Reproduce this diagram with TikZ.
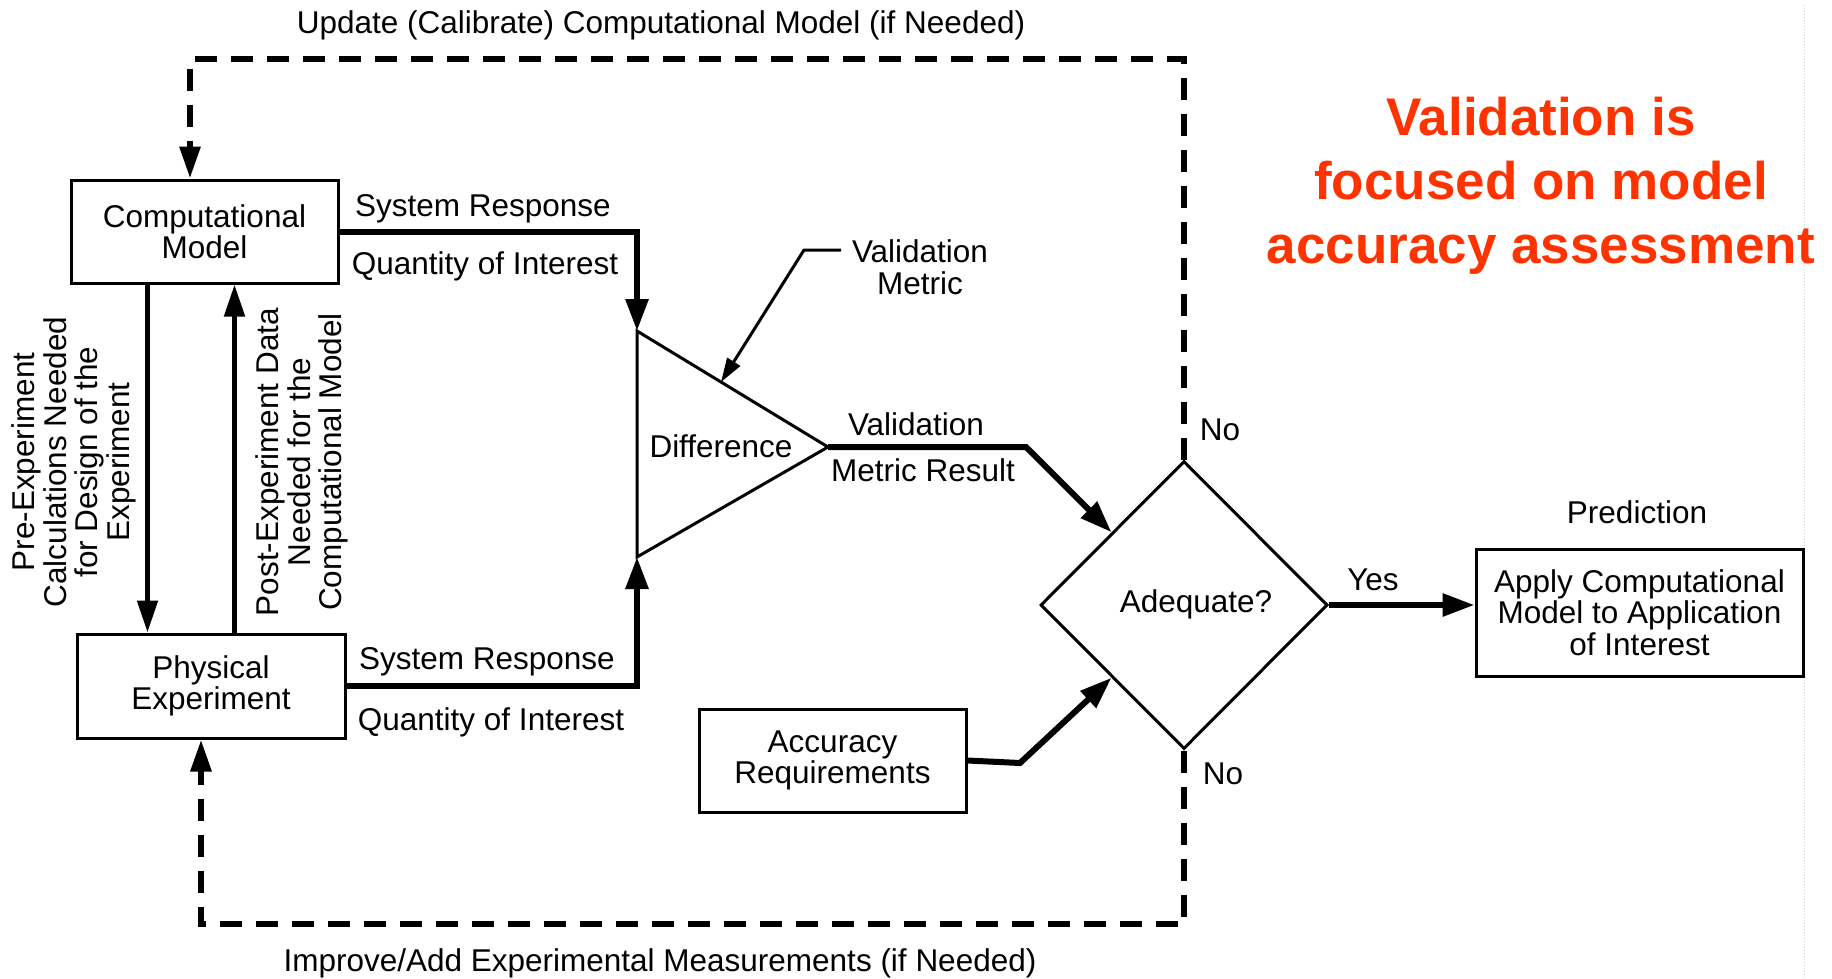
\documentclass[tikz,border=0pt]{standalone}
\usepackage{fontspec}
\setmainfont{Liberation Sans}
\usetikzlibrary{arrows.meta,shapes.geometric,calc}
\definecolor{alertred}{RGB}{255,51,0}
\begin{document}
\begin{tikzpicture}[x=1pt,y=-1pt,
font=\fontsize{31.5}{31.5}\selectfont,
every node/.style={inner sep=0pt,align=center},
box/.style={draw,line width=3pt,rectangle},
flow/.style={line width=6pt,line join=miter,-{Triangle[length=32pt,width=22pt]}},
link/.style={line width=5pt,-{Triangle[length=32pt,width=20pt]}},
loopback/.style={line width=6pt,dash pattern=on 22pt off 14pt,-{Triangle[length=32pt,width=20pt]}}]
\useasboundingbox(0,0)rectangle(1832,978);
\draw[gray!40,line width=1pt,dotted](1804,5)--(1804,978);
% boxes
\draw(204.5,231.5)node[box,minimum width=267pt,minimum height=103pt](comp){Computational\\Model};
\draw(211,686)node[box,minimum width=268pt,minimum height=104pt](phys){Physical\\Experiment};
\draw(832.5,760.5)node[box,minimum width=267pt,minimum height=103pt](acc){Accuracy\\Requirements};
\draw(1639.5,612.5)node[box,minimum width=327pt,minimum height=127pt](apply){Apply Computational\\Model to Application\\of Interest};
\draw(1184,605)node[draw,diamond,line width=3pt,minimum width=287pt,minimum height=288pt](adeq){};
\draw(1196,604)node(adeqlab){Adequate?};
% difference triangle
\coordinate(tritop)at(637,331);
\coordinate(tribot)at(637,557);
\coordinate(apex)at(828,447);
\draw[line width=3pt,line join=miter](tritop)--(apex)--(tribot)--cycle;
\draw(721,446)node(diff){Difference};
% flows
\draw[flow](comp.east)-|(tritop);
\draw[flow](phys.east)-|(tribot);
\coordinate(bend1)at(1026,447);
\draw[flow](apex)--(bend1)--(adeq.north west);
\coordinate(bend2)at(1020,763);
\draw[flow](acc.east)--(bend2)--(adeq.south west);
\draw[flow](adeq.east)--(apply.west|-adeq.east);
\coordinate(pre)at([xshift=-57pt]comp.south);
\coordinate(post)at([xshift=30pt]comp.south);
\draw[link](pre)--(pre|-phys.north);
\draw[link](post|-phys.north)--(post);
% loops
\coordinate(upd)at(190,59);
\draw[loopback](adeq.north)|-(upd)--(upd|-comp.north);
\coordinate(imp)at(201,924);
\draw[loopback](adeq.south)|-(imp)--(imp|-phys.south);
% metric pointer
\draw(920,267)node(vm){Validation\\Metric};
\coordinate(vmstart)at(841,250);
\coordinate(vmbend)at(804,250);
\draw[line width=3pt,-{Triangle[length=24pt,width=15pt]}](vmstart)--(vmbend)--($(tritop)!0.44!(apex)$);
% labels
\draw(661,25)node(updlab){Update (Calibrate) Computational Model (if Needed)};
\draw(660,963)node(implab){Improve/Add Experimental Measurements (if Needed)};
\draw(483,209)node(srtop){System Response};
\draw(485,266)node(qtop){Quantity of Interest};
\draw(487,662)node(srbot){System Response};
\draw(491,722)node(qbot){Quantity of Interest};
\draw(916,424)node(vmr1){Validation};
\draw(923,470)node(vmr2){Metric Result};
\draw(1220,430)node(notop){No};
\draw(1223,774)node(nobot){No};
\draw(1373,580)node(yes){Yes};
\draw(1637,512)node(pred){Prediction};
\draw(74,462)node[rotate=90](prelab){Pre-Experiment\\Calculations Needed\\for Design of the\\Experiment};
\draw(302,462)node[rotate=90](postlab){Post-Experiment Data\\Needed for the\\Computational Model};
\draw(1541,186)node[text=alertred,font=\fontsize{53}{64}\selectfont\bfseries](note){Validation is\\focused on model\\accuracy assessment};
\end{tikzpicture}
\end{document}
